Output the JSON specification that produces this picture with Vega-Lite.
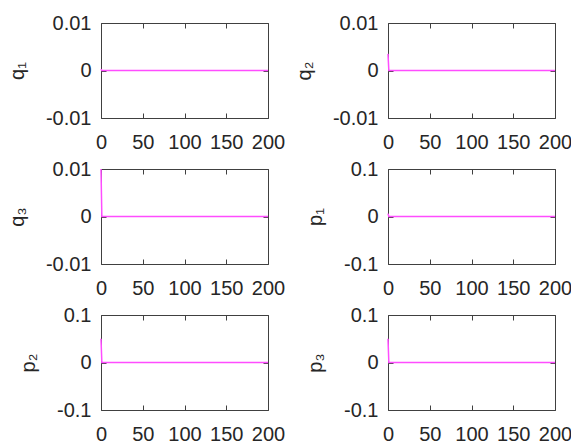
{
  "$schema": "https://vega.github.io/schema/vega-lite/v6.json",
  "background": "white",
  "padding": {"left": 6, "top": 12, "right": 5, "bottom": 5},
  "datasets": {
    "d": [
      {"s": "q1", "t": 0, "v": 0.0003}, {"s": "q1", "t": 1, "v": 0}, {"s": "q1", "t": 200, "v": 0},
      {"s": "q2", "t": 0, "v": 0.0035}, {"s": "q2", "t": 1, "v": 0}, {"s": "q2", "t": 200, "v": 0},
      {"s": "q3", "t": 0, "v": 0.01}, {"s": "q3", "t": 1, "v": 0}, {"s": "q3", "t": 200, "v": 0},
      {"s": "p1", "t": 0, "v": 0.006}, {"s": "p1", "t": 1, "v": 0}, {"s": "p1", "t": 200, "v": 0},
      {"s": "p2", "t": 0, "v": 0.05}, {"s": "p2", "t": 1, "v": 0}, {"s": "p2", "t": 200, "v": 0},
      {"s": "p3", "t": 0, "v": 0.05}, {"s": "p3", "t": 1, "v": 0}, {"s": "p3", "t": 200, "v": 0}
    ]
  },
  "columns": 2,
  "spacing": {"row": 51, "column": 120},
  "bounds": "flush",
  "concat": [
    {
      "width": 167, "height": 95,
      "data": {"name": "d"},
      "transform": [{"filter": "datum.s === 'q1'"}],
      "layer": [
        {"mark": {"type": "line", "color": "#ff4dff", "strokeWidth": 1.5},
         "encoding": {
           "x": {"field": "t", "type": "quantitative", "scale": {"domain": [0, 200]}, "axis": {"title": null, "values": [0, 50, 100, 150, 200], "format": "d"}},
           "y": {"field": "v", "type": "quantitative", "scale": {"domain": [-0.01, 0.01]}, "axis": {"title": "q₁", "values": [-0.01, 0, 0.01], "labelExpr": "datum.value === 0 ? '0' : (datum.value < 0 ? '-' : '') + format(abs(datum.value), '.2f')"}}
         }},
        {"mark": {"type": "line", "opacity": 0},
         "encoding": {
           "x": {"field": "t", "type": "quantitative", "axis": {"orient": "top", "labels": false, "title": null, "values": [0, 50, 100, 150, 200]}},
           "y": {"field": "v", "type": "quantitative", "axis": {"orient": "right", "labels": false, "title": null, "values": [-0.01, 0, 0.01]}}
         }}
      ],
      "resolve": {"axis": {"x": "independent", "y": "independent"}}
    },
    {
      "width": 167, "height": 95,
      "data": {"name": "d"},
      "transform": [{"filter": "datum.s === 'q2'"}],
      "layer": [
        {"mark": {"type": "line", "color": "#ff4dff", "strokeWidth": 1.5},
         "encoding": {
           "x": {"field": "t", "type": "quantitative", "scale": {"domain": [0, 200]}, "axis": {"title": null, "values": [0, 50, 100, 150, 200], "format": "d"}},
           "y": {"field": "v", "type": "quantitative", "scale": {"domain": [-0.01, 0.01]}, "axis": {"title": "q₂", "values": [-0.01, 0, 0.01], "labelExpr": "datum.value === 0 ? '0' : (datum.value < 0 ? '-' : '') + format(abs(datum.value), '.2f')"}}
         }},
        {"mark": {"type": "line", "opacity": 0},
         "encoding": {
           "x": {"field": "t", "type": "quantitative", "axis": {"orient": "top", "labels": false, "title": null, "values": [0, 50, 100, 150, 200]}},
           "y": {"field": "v", "type": "quantitative", "axis": {"orient": "right", "labels": false, "title": null, "values": [-0.01, 0, 0.01]}}
         }}
      ],
      "resolve": {"axis": {"x": "independent", "y": "independent"}}
    },
    {
      "width": 167, "height": 95,
      "data": {"name": "d"},
      "transform": [{"filter": "datum.s === 'q3'"}],
      "layer": [
        {"mark": {"type": "line", "color": "#ff4dff", "strokeWidth": 1.5},
         "encoding": {
           "x": {"field": "t", "type": "quantitative", "scale": {"domain": [0, 200]}, "axis": {"title": null, "values": [0, 50, 100, 150, 200], "format": "d"}},
           "y": {"field": "v", "type": "quantitative", "scale": {"domain": [-0.01, 0.01]}, "axis": {"title": "q₃", "values": [-0.01, 0, 0.01], "labelExpr": "datum.value === 0 ? '0' : (datum.value < 0 ? '-' : '') + format(abs(datum.value), '.2f')"}}
         }},
        {"mark": {"type": "line", "opacity": 0},
         "encoding": {
           "x": {"field": "t", "type": "quantitative", "axis": {"orient": "top", "labels": false, "title": null, "values": [0, 50, 100, 150, 200]}},
           "y": {"field": "v", "type": "quantitative", "axis": {"orient": "right", "labels": false, "title": null, "values": [-0.01, 0, 0.01]}}
         }}
      ],
      "resolve": {"axis": {"x": "independent", "y": "independent"}}
    },
    {
      "width": 167, "height": 95,
      "data": {"name": "d"},
      "transform": [{"filter": "datum.s === 'p1'"}],
      "layer": [
        {"mark": {"type": "line", "color": "#ff4dff", "strokeWidth": 1.5},
         "encoding": {
           "x": {"field": "t", "type": "quantitative", "scale": {"domain": [0, 200]}, "axis": {"title": null, "values": [0, 50, 100, 150, 200], "format": "d"}},
           "y": {"field": "v", "type": "quantitative", "scale": {"domain": [-0.1, 0.1]}, "axis": {"title": "p₁", "values": [-0.1, 0, 0.1], "labelExpr": "datum.value === 0 ? '0' : (datum.value < 0 ? '-' : '') + format(abs(datum.value), '.1f')"}}
         }},
        {"mark": {"type": "line", "opacity": 0},
         "encoding": {
           "x": {"field": "t", "type": "quantitative", "axis": {"orient": "top", "labels": false, "title": null, "values": [0, 50, 100, 150, 200]}},
           "y": {"field": "v", "type": "quantitative", "axis": {"orient": "right", "labels": false, "title": null, "values": [-0.1, 0, 0.1]}}
         }}
      ],
      "resolve": {"axis": {"x": "independent", "y": "independent"}}
    },
    {
      "width": 167, "height": 95,
      "data": {"name": "d"},
      "transform": [{"filter": "datum.s === 'p2'"}],
      "layer": [
        {"mark": {"type": "line", "color": "#ff4dff", "strokeWidth": 1.5},
         "encoding": {
           "x": {"field": "t", "type": "quantitative", "scale": {"domain": [0, 200]}, "axis": {"title": null, "values": [0, 50, 100, 150, 200], "format": "d"}},
           "y": {"field": "v", "type": "quantitative", "scale": {"domain": [-0.1, 0.1]}, "axis": {"title": "p₂", "values": [-0.1, 0, 0.1], "labelExpr": "datum.value === 0 ? '0' : (datum.value < 0 ? '-' : '') + format(abs(datum.value), '.1f')"}}
         }},
        {"mark": {"type": "line", "opacity": 0},
         "encoding": {
           "x": {"field": "t", "type": "quantitative", "axis": {"orient": "top", "labels": false, "title": null, "values": [0, 50, 100, 150, 200]}},
           "y": {"field": "v", "type": "quantitative", "axis": {"orient": "right", "labels": false, "title": null, "values": [-0.1, 0, 0.1]}}
         }}
      ],
      "resolve": {"axis": {"x": "independent", "y": "independent"}}
    },
    {
      "width": 167, "height": 95,
      "data": {"name": "d"},
      "transform": [{"filter": "datum.s === 'p3'"}],
      "layer": [
        {"mark": {"type": "line", "color": "#ff4dff", "strokeWidth": 1.5},
         "encoding": {
           "x": {"field": "t", "type": "quantitative", "scale": {"domain": [0, 200]}, "axis": {"title": null, "values": [0, 50, 100, 150, 200], "format": "d"}},
           "y": {"field": "v", "type": "quantitative", "scale": {"domain": [-0.1, 0.1]}, "axis": {"title": "p₃", "values": [-0.1, 0, 0.1], "labelExpr": "datum.value === 0 ? '0' : (datum.value < 0 ? '-' : '') + format(abs(datum.value), '.1f')"}}
         }},
        {"mark": {"type": "line", "opacity": 0},
         "encoding": {
           "x": {"field": "t", "type": "quantitative", "axis": {"orient": "top", "labels": false, "title": null, "values": [0, 50, 100, 150, 200]}},
           "y": {"field": "v", "type": "quantitative", "axis": {"orient": "right", "labels": false, "title": null, "values": [-0.1, 0, 0.1]}}
         }}
      ],
      "resolve": {"axis": {"x": "independent", "y": "independent"}}
    }
  ],
  "config": {
    "view": {"stroke": "#404040", "strokeWidth": 1},
    "axis": {
      "domain": false, "grid": false,
      "labelFont": "Liberation Sans", "labelFontSize": 20, "labelColor": "#262626",
      "labelFlush": false, "labelOverlap": false, "labelBound": false,
      "titleFont": "Liberation Sans", "titleFontSize": 20, "titleFontWeight": "normal", "titleColor": "#262626",
      "tickColor": "#404040", "tickSize": -5, "titlePadding": 18
    },
    "axisX": {"labelPadding": 19},
    "axisY": {"labelPadding": 15}
  }
}
